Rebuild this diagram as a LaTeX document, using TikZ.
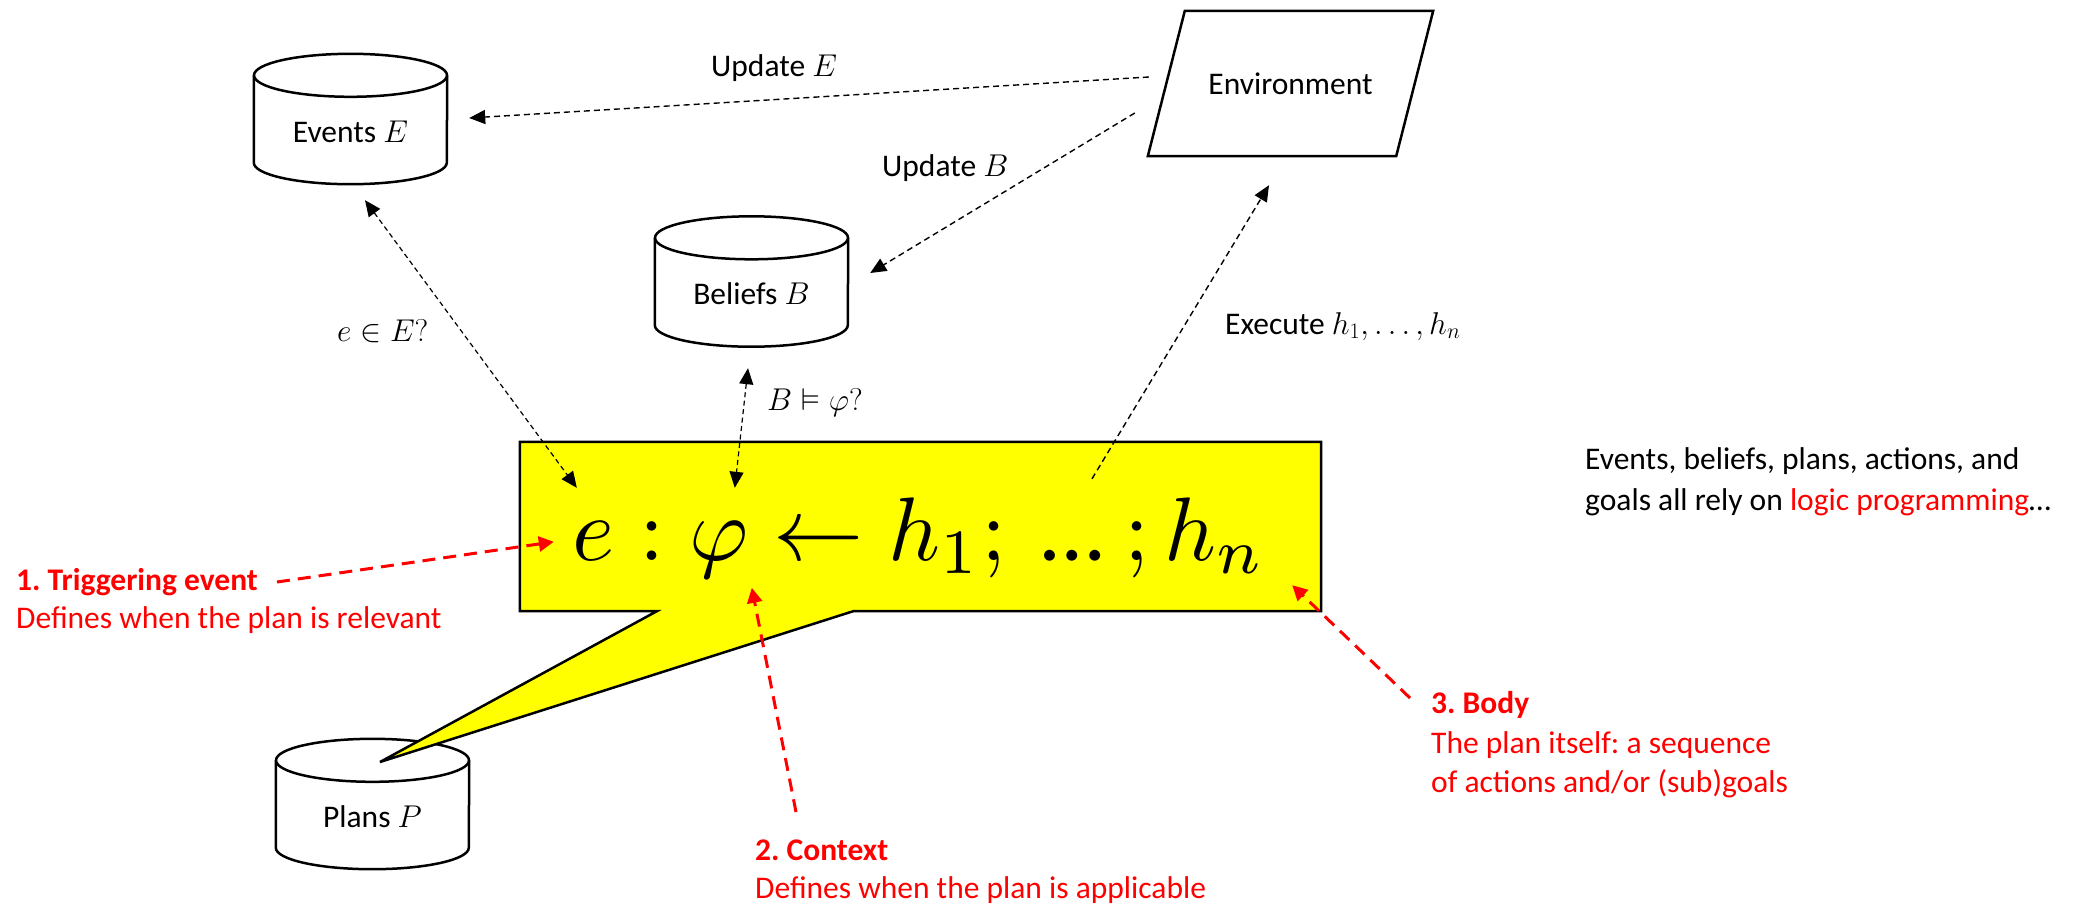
\RequirePackage{fix-cm}
\documentclass[tikz,border=0pt]{standalone}
\usepackage{amssymb}
\usepackage{graphicx}
\usepackage{fontspec}
\setmainfont{Carlito}
\usetikzlibrary{arrows.meta,calc}
\definecolor{cred}{RGB}{255,0,0}
\definecolor{cyel}{RGB}{255,255,0}
\frenchspacing
\newcommand\txtsize{\fontsize{31.5}{38}\selectfont}
\newcommand\drawcyl[1]{%
  \draw[shapeline] ($(#1.north west)+(0,21.5)$) -- ($(#1.south west)+(0,-21.5)$)
    arc[start angle=180,end angle=360,x radius=96.5pt,y radius=21.5pt]
    -- ($(#1.north east)+(0,21.5)$);
  \draw[shapeline] ($(#1.north)+(0,21.5)$) ellipse[x radius=96.5pt,y radius=21.5pt];
}
\begin{document}
\begin{tikzpicture}[x=1pt,y=-1pt,
  txt/.style={font=\txtsize, inner sep=0pt, text=black},
  rtxt/.style={font=\txtsize, inner sep=0pt, text=cred},
  rbold/.style={font=\txtsize\bfseries, inner sep=0pt, text=cred},
  cylbox/.style={minimum width=193pt, minimum height=130pt, inner sep=0pt,
    text height=46pt, text depth=0pt, font=\txtsize},
  shapeline/.style={draw=black, line width=2.5pt, line join=miter},
  bconn/.style={draw=black, line width=1.4pt, dash pattern=on 6pt off 4pt,
    -{Triangle[length=16pt,width=14pt]}},
  bconnboth/.style={draw=black, line width=1.2pt, dash pattern=on 5pt off 3.5pt,
    {Triangle[length=16pt,width=14pt]}-{Triangle[length=16pt,width=14pt]}},
  rconn/.style={draw=cred, line width=3pt, dash pattern=on 13pt off 8pt,
    -{Triangle[length=15pt,width=15pt]}}
]
\useasboundingbox (0,0) rectangle (2077,906);

% data stores
\node[cylbox] (events) at (350.5,119) {Events $E$};
\drawcyl{events}
\node[cylbox] (beliefs) at (751.5,281.5) {Beliefs $B$};
\drawcyl{beliefs}
\node[cylbox] (plans) at (372.5,804) {Plans $P$};
\drawcyl{plans}

% environment
\node[minimum width=285pt, minimum height=145pt, inner sep=0pt, font=\txtsize] (env) at (1290.5,83.5) {Environment};
\draw[shapeline] (env.south west) -- ([xshift=37pt]env.north west) -- (env.north east)
  -- ([xshift=-37pt]env.south east) -- cycle;

% plan rule callout
\node[minimum width=801pt, minimum height=169pt, inner sep=0pt] (rule) at (920.5,526.5) {};
\draw[shapeline, fill=cyel] (rule.north west) -- (rule.north east) -- (rule.south east)
  -- ([xshift=-468pt]rule.south east) -- ([xshift=7.5pt,yshift=42pt]plans.center)
  -- ([xshift=137pt]rule.south west) -- (rule.south west) -- cycle;
\node[anchor=base west, inner sep=0pt] (formula) at (572,560)
  {\resizebox{693pt}{!}{$e : \varphi \leftarrow h_1;\ \mbox{…}\ ; h_n$}};

% labels
\node[txt, anchor=base west] (lblUE) at (711,76) {Update $E$};
\node[txt, anchor=base west] (lblUB) at (882,176) {Update $B$};
\node[txt, anchor=base west] (lblEx) at (1225,334) {Execute $h_1,\ldots,h_n$};
\node[txt, anchor=base west] (lblEE) at (337,341) {$e\in E?$};
\node[txt, anchor=base west] (lblBP) at (767,410) {$B\vDash\varphi?$};

\node[rbold, anchor=base west] (t1) at (16,590) {1. Triggering event};
\node[rtxt, anchor=base west] (t1b) at (16,628) {Defines when the plan is relevant};
\node[rbold, anchor=base west] (t2) at (755,860) {2. Context};
\node[rtxt, anchor=base west] (t2b) at (755,898) {Defines when the plan is applicable};
\node[rbold, anchor=base west] (t3) at (1431,713) {3. Body};
\node[rtxt, anchor=base west] (t3b) at (1431,753) {The plan itself: a sequence};
\node[rtxt, anchor=base west] (t3c) at (1431,792) {of actions and/or (sub)goals};

\node[txt, anchor=base west] (side1) at (1585,469) {Events, beliefs, plans, actions, and};
\node[txt, anchor=base west] (side2) at (1585,510) {goals all rely on \textcolor{cred}{logic programming}…};

% connectors
\draw[bconn] ([xshift=1pt,yshift=6.5pt]env.west) -- ([xshift=22pt,yshift=1pt]events.east);
\draw[bconn] ([xshift=-13pt,yshift=-29.5pt]env.west) -- ([xshift=22pt,yshift=8.5pt]beliefs.east);
\draw[bconn] ([xshift=171.5pt,yshift=-37pt]rule.north) -- ([xshift=-21.5pt,yshift=-29pt]env.south);
\draw[bconnboth] ([xshift=14.5pt,yshift=-16pt]events.south) -- ([xshift=57pt,yshift=-46pt]rule.north west);
\draw[bconnboth] ([xshift=-3.5pt,yshift=-21.5pt]beliefs.south) -- ([xshift=215pt,yshift=-46pt]rule.north west);

\draw[rconn] ([xshift=261pt,yshift=8pt]t1.base west) -- ([xshift=34pt,yshift=-100pt]rule.north west);
\draw[rconn] ([xshift=41pt,yshift=48pt]t2.base west) -- ([xshift=232pt,yshift=-146pt]rule.north west);
\draw[rconn] ([xshift=-21pt,yshift=15pt]t3.base west) -- ([xshift=-29pt,yshift=26pt]rule.south east);
\end{tikzpicture}
\end{document}
